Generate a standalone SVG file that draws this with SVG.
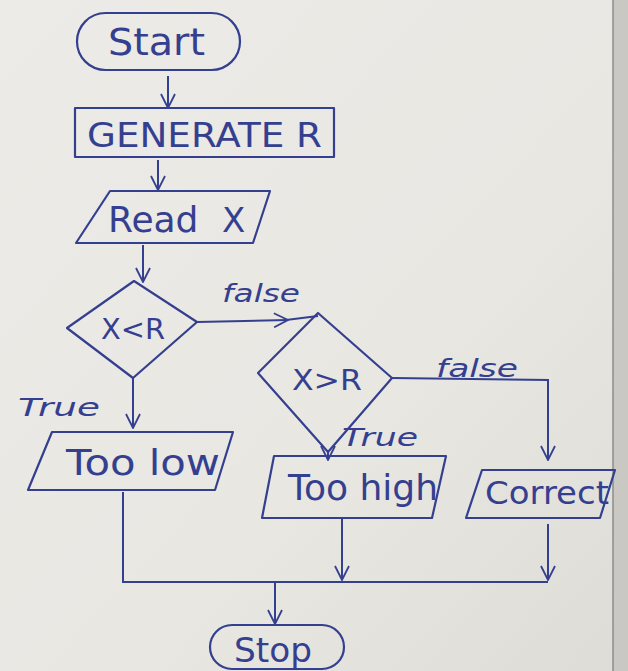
<svg xmlns="http://www.w3.org/2000/svg" width="628" height="671" viewBox="0 0 628 671">
  <style>
    .shape { fill: none; stroke: #34408f; stroke-width: 2.2; stroke-linejoin: round; }
    .link { fill: none; stroke: #34408f; stroke-width: 2; }
    .lbl { font-family: "DejaVu Sans", "Liberation Sans", sans-serif; fill: #34408f; }
    .small { font-size: 25px; font-style: italic; }
  </style>
  <defs>
    <linearGradient id="paper" x1="0" y1="0" x2="1" y2="1">
      <stop offset="0" stop-color="#ecebe7"/>
      <stop offset="0.6" stop-color="#e8e7e2"/>
      <stop offset="1" stop-color="#dddcd6"/>
    </linearGradient>
    <marker id="arrow" viewBox="0 0 16 16" refX="15" refY="8" markerWidth="16" markerHeight="16" markerUnits="userSpaceOnUse" orient="auto">
      <path d="M1,1 L15,8 L1,15" fill="none" stroke="#34408f" stroke-width="1.8"/>
    </marker>
  </defs>

  <!-- paper -->
  <rect x="0" y="0" width="628" height="671" fill="url(#paper)"/>
  <rect x="613" y="0" width="15" height="671" fill="#c9c8c3"/>
  <line x1="613" y1="0" x2="613" y2="671" stroke="#8c8c8c" stroke-width="1.5"/>

  <!-- connectors -->
  <g id="connectors">
    <line class="link" x1="168" y1="76" x2="168" y2="108" marker-end="url(#arrow)"/>
    <line class="link" x1="158" y1="160" x2="158" y2="190" marker-end="url(#arrow)"/>
    <line class="link" x1="143" y1="245" x2="143" y2="282" marker-end="url(#arrow)"/>
    <line class="link" x1="197" y1="322" x2="288" y2="320" marker-end="url(#arrow)"/>
    <line class="link" x1="286" y1="320" x2="318" y2="316"/>
    <polyline class="link" points="392,378 548,380 548,460" marker-end="url(#arrow)"/>
    <line class="link" x1="133" y1="378" x2="133" y2="428" marker-end="url(#arrow)"/>
    <line class="link" x1="328" y1="450" x2="328" y2="460" marker-end="url(#arrow)"/>
    <polyline class="link" points="123,492 123,582 548,582"/>
    <line class="link" x1="342" y1="519" x2="342" y2="580" marker-end="url(#arrow)"/>
    <line class="link" x1="548" y1="524" x2="548" y2="580" marker-end="url(#arrow)"/>
    <line class="link" x1="275" y1="582" x2="275" y2="624" marker-end="url(#arrow)"/>
    <text class="lbl small" x="222" y="302" textLength="78" lengthAdjust="spacingAndGlyphs">false</text>
    <text class="lbl small" x="436" y="377" textLength="82" lengthAdjust="spacingAndGlyphs">false</text>
    <text class="lbl small" x="18" y="416" textLength="82" lengthAdjust="spacingAndGlyphs">True</text>
    <text class="lbl small" x="342" y="446" textLength="76" lengthAdjust="spacingAndGlyphs">True</text>
  </g>

  <!-- nodes -->
  <g id="start">
    <rect class="shape" x="77" y="13" width="163" height="57" rx="28.5"/>
    <text class="lbl" font-size="38" x="108" y="55" textLength="97" lengthAdjust="spacingAndGlyphs">Start</text>
  </g>
  <g id="generate">
    <rect class="shape" x="75" y="108" width="259" height="49"/>
    <text class="lbl" font-size="34" x="87" y="147" textLength="235" lengthAdjust="spacingAndGlyphs">GENERATE R</text>
  </g>
  <g id="read">
    <polygon class="shape" points="110,191 270,191 253,243 76,243"/>
    <text class="lbl" font-size="36" x="108" y="232">Read</text>
    <text class="lbl" font-size="34" x="222" y="232">X</text>
  </g>
  <g id="cond1">
    <polygon class="shape" points="134,281 197,322 133,378 67,328"/>
    <text class="lbl" font-size="28" x="101" y="339" textLength="64" lengthAdjust="spacingAndGlyphs">X&lt;R</text>
  </g>
  <g id="cond2">
    <polygon class="shape" points="318,313 392,378 328,452 258,373"/>
    <text class="lbl" font-size="28" x="292" y="390" textLength="70" lengthAdjust="spacingAndGlyphs">X&gt;R</text>
  </g>
  <g id="toolow">
    <polygon class="shape" points="52,432 233,432 215,490 28,490"/>
    <text class="lbl" font-size="36" x="66" y="475" textLength="154" lengthAdjust="spacingAndGlyphs">Too low</text>
  </g>
  <g id="toohigh">
    <polygon class="shape" points="274,456 446,456 432,518 262,518"/>
    <text class="lbl" font-size="36" x="288" y="500" textLength="150" lengthAdjust="spacingAndGlyphs">Too high</text>
  </g>
  <g id="correct">
    <polygon class="shape" points="482,470 615,470 600,518 466,518"/>
    <text class="lbl" font-size="32" x="485" y="504" textLength="124" lengthAdjust="spacingAndGlyphs">Correct</text>
  </g>
  <g id="stop">
    <rect class="shape" x="210" y="625" width="134" height="44" rx="22"/>
    <text class="lbl" font-size="34" x="234" y="662" textLength="78" lengthAdjust="spacingAndGlyphs">Stop</text>
  </g>
</svg>
